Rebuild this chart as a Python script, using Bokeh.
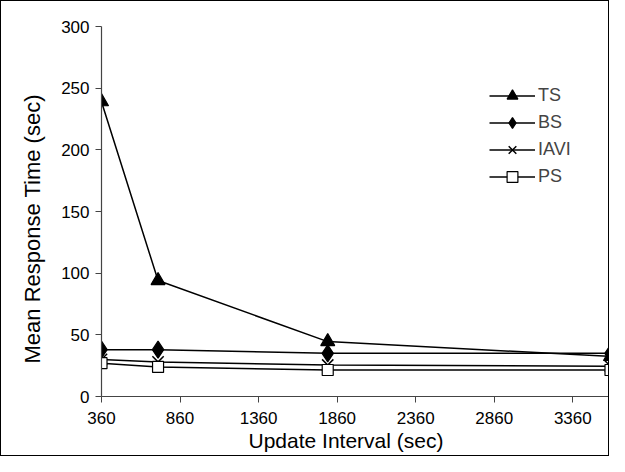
from bokeh.plotting import figure
from bokeh.models import FixedTicker, Range1d, Legend, LegendItem, Title
from bokeh.embed import file_html
from bokeh.resources import INLINE

x_values = [360, 720, 1800, 3600]
ts = [239, 94, 44.5, 32.5]
bs = [38, 38, 35, 35]
iavi = [30, 28, 25.5, 24.5]
ps = [27, 24, 21.5, 21.5]
x_ticks = [360, 860, 1360, 1860, 2360, 2860, 3360]
y_ticks = [0, 50, 100, 150, 200, 250, 300]
x_title = "Update Interval (sec)"
y_title = "Mean Response Time (sec)"

FONT = "Liberation Sans"

p = figure(width=609, height=456, output_backend="svg", toolbar_location=None,
           x_range=Range1d(360, 3600), y_range=Range1d(0, 300),
           min_border_left=100, min_border_right=0, min_border_top=25, min_border_bottom=61)
p.styles = {"border": "1.5px solid black", "box-sizing": "border-box"}
p.outline_line_color = None
p.xgrid.visible = False
p.ygrid.visible = False

for ax in (p.xaxis, p.yaxis):
    ax.axis_line_color = "#444444"
    ax.axis_line_width = 1.2
    ax.major_tick_line_color = "#444444"
    ax.major_tick_in = 0
    ax.major_tick_out = 6
    ax.minor_tick_line_color = None
    ax.major_label_text_font = FONT
    ax.major_label_text_font_size = "17px"
    ax.major_label_text_color = "black"

p.xaxis.ticker = FixedTicker(ticks=x_ticks)
p.yaxis.ticker = FixedTicker(ticks=y_ticks)
p.xaxis.major_label_standoff = 9
p.yaxis.major_label_standoff = 6

p.add_layout(Title(text=x_title, align="left", offset=147, standoff=0,
                   text_font=FONT, text_font_size="21px", text_font_style="normal",
                   text_color="black"), "below")
p.add_layout(Title(text=y_title, align="left", offset=33, standoff=28,
                   text_font=FONT, text_font_size="22px", text_font_style="normal",
                   text_color="black"), "left")

items = []
specs = [("TS", ts, "triangle", 14, "black"),
         ("BS", bs, "diamond", 17, "black"),
         ("IAVI", iavi, "x", 16, None),
         ("PS", ps, "square", 11, "white")]
for name, ys, marker, size, fill in specs:
    l = p.line(x_values, ys, line_color="black", line_width=1.5)
    if fill is None:
        s = p.scatter(x_values, ys, marker=marker, size=size, line_color="black", line_width=1.5)
    else:
        s = p.scatter(x_values, ys, marker=marker, size=size, line_color="black",
                      fill_color=fill, line_width=1.2)
    items.append(LegendItem(label=name, renderers=[l, s]))

legend = Legend(items=items, location=(388, 206), glyph_width=46, glyph_height=27,
                spacing=0, padding=0, margin=0, label_standoff=3,
                label_text_font=FONT, label_text_font_size="18px",
                border_line_color=None, background_fill_alpha=0)
p.add_layout(legend, "center")

open("out.html", "w").write(file_html(p, INLINE))
